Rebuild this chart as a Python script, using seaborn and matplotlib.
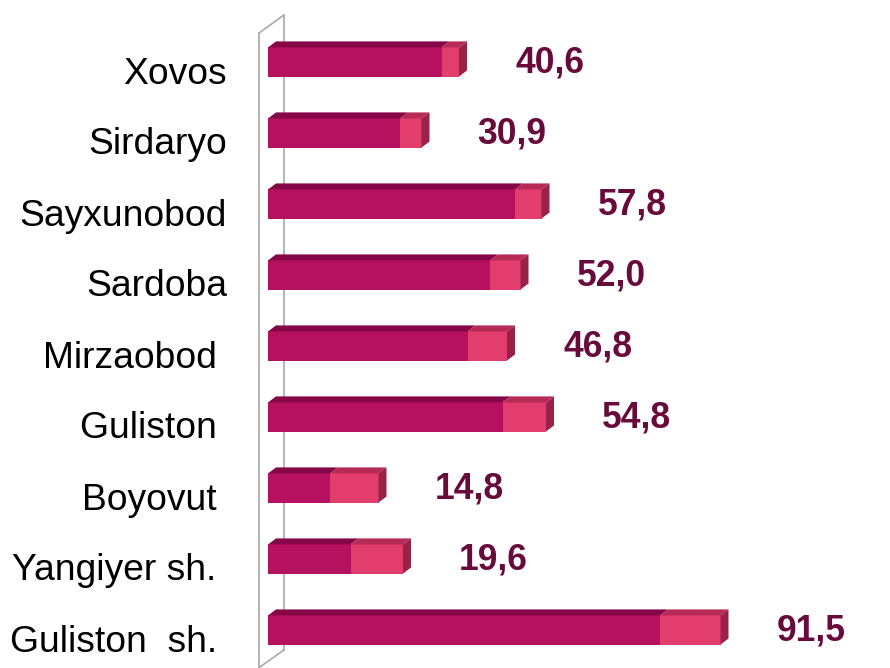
import pandas as pd
import matplotlib.pyplot as plt
import matplotlib.transforms as mtransforms
from matplotlib.patches import Polygon
import seaborn as sns

# -----------------------------
# Data
# -----------------------------
districts = ["Xovos", "Sirdaryo", "Sayxunobod", "Sardoba", "Mirzaobod ",
             "Guliston ", "Boyovut ", "Yangiyer sh. ", "Guliston  sh. "]
values = ["40,6", "30,9", "57,8", "52,0", "46,8", "54,8", "14,8", "19,6", "91,5"]
# bar lengths are split in two parts (dark + light segment)
part_dark = [34.7, 26.4, 49.4, 44.4, 39.9, 46.9, 12.4, 16.5, 78.4]
part_light = [3.5, 4.3, 5.3, 6.1, 7.9, 8.7, 9.7, 10.5, 12.1]

df = pd.DataFrame({"district": districts, "dark": part_dark, "light": part_light})
df["total"] = df["dark"] + df["light"]

# colours
c_dark = "#B5115F"
c_light = "#E33D6D"
c_dark_top = "#850747"
c_light_top = "#B62B55"
c_side = "#9A2247"
c_text = "#680A3C"

sns.set_style("white")
plt.rcParams["font.family"] = ["Liberation Sans", "DejaVu Sans"]

fig = plt.figure(figsize=(8.9, 6.68), dpi=100)
ax = fig.add_axes([268 / 890, 1 - 665.5 / 668, 600 / 890, 639 / 668])

bar_h = 0.41
sns.barplot(data=df, x="total", y="district", color=c_light, saturation=1,
            width=bar_h, orient="h", ax=ax, zorder=3, linewidth=0, edgecolor="none")
sns.barplot(data=df, x="dark", y="district", color=c_dark, saturation=1,
            width=bar_h, orient="h", ax=ax, zorder=4, linewidth=0, edgecolor="none")

ax.set_xlim(0, 120)
ax.set_ylim(8.5, -0.5)

# depth of the 3D effect in data units
dx = 1.6
dy = 0.085

n = len(df)
light_bars = ax.patches[:n]
dark_bars = ax.patches[n:]

for lb, db, val in zip(light_bars, dark_bars, values):
    x0 = lb.get_x()
    x1 = x0 + lb.get_width()
    xm = db.get_x() + db.get_width()
    ytop = lb.get_y()
    ybot = ytop + lb.get_height()
    # top faces
    ax.add_patch(Polygon([(x0, ytop), (xm, ytop), (xm + dx, ytop - dy), (x0 + dx, ytop - dy)],
                         closed=True, facecolor=c_dark_top, edgecolor="none", zorder=5))
    ax.add_patch(Polygon([(xm, ytop), (x1, ytop), (x1 + dx, ytop - dy), (xm + dx, ytop - dy)],
                         closed=True, facecolor=c_light_top, edgecolor="none", zorder=5))
    # side face
    ax.add_patch(Polygon([(x1, ytop), (x1 + dx, ytop - dy), (x1 + dx, ybot - dy), (x1, ybot)],
                         closed=True, facecolor=c_side, edgecolor="none", zorder=5))
    # value label
    ax.text(x1 + 11.2, (ytop + ybot) / 2 + 0.02, val, ha="left", va="center",
            fontsize=25.6, fontweight="bold", color=c_text)

# back wall lines (3D axis)
wall = dict(color="#A8A8A8", lw=1.2, clip_on=False, zorder=1)
ax.plot([-1.8, -1.8], [-0.408, 8.7], **wall)
ax.plot([-1.8, 3.2], [-0.408, -0.662], **wall)
ax.plot([3.2, 3.2], [-0.662, 8.28], **wall)
ax.plot([3.2, -1.8], [8.28, 8.53], **wall)

# axis styling
for s in ax.spines.values():
    s.set_visible(False)
ax.set_xticks([])
ax.set_xlabel("")
ax.set_ylabel("")
ax.tick_params(axis="y", length=0, pad=29.5, labelsize=26.8)
shift = mtransforms.ScaledTranslation(0, -8 / 100, fig.dpi_scale_trans)
for lab in ax.get_yticklabels():
    lab.set_transform(lab.get_transform() + shift)
    lab.set_color("black")

plt.savefig("out.png", dpi=100, facecolor="white")
